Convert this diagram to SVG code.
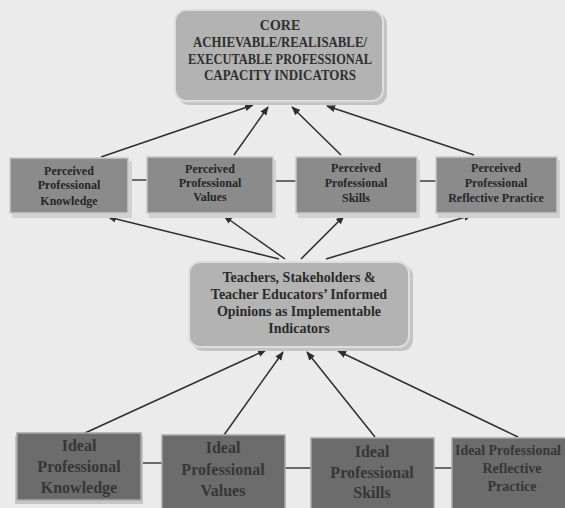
<svg xmlns="http://www.w3.org/2000/svg" width="565" height="508" viewBox="0 0 565 508">
<style>
  text { font-family: "Liberation Serif", "Times New Roman", serif; font-weight: bold; text-anchor: middle; }
  .core { fill: #b3b3b3; stroke: #dedede; stroke-width: 2; }
  .coreShadow { fill: #c4c4c4; }
  .perc { fill: #8b8b8b; stroke: #c9c9c9; stroke-width: 1.5; }
  .percShadow { fill: #d2d2d2; }
  .ideal { fill: #6c6c6c; stroke: #a8a8a8; stroke-width: 1.5; }
  .idealShadow { fill: #c6c6c6; }
  .t1 { font-size: 14px; fill: #2f2f2f; }
  .t2 { font-size: 12px; fill: #262626; }
  .t3 { font-size: 14px; fill: #2a2a2a; }
  .t4 { font-size: 16px; fill: #363636; }
  .t5 { font-size: 14px; fill: #363636; }
  .arrow { stroke: #2e2e2e; stroke-width: 1.5; fill: none; marker-end: url(#ah); }
  .link { stroke: #6a6a6a; stroke-width: 2; fill: none; }
</style>
<defs>
  <marker id="ah" viewBox="0 0 10 10" refX="9" refY="5" markerWidth="6" markerHeight="6" orient="auto" markerUnits="strokeWidth">
    <path d="M0,1 L10,5 L0,9 Z" fill="#2e2e2e"/>
  </marker>
</defs>
<rect x="0" y="0" width="565" height="508" fill="#ebebeb"/>

<g id="connectors">
  <line class="link" x1="128" y1="180" x2="147" y2="180"/>
  <line class="link" x1="273" y1="181" x2="296" y2="181"/>
  <line class="link" x1="417" y1="181" x2="436" y2="181"/>
  <line class="link" x1="141" y1="463" x2="162" y2="463"/>
  <line class="link" x1="285" y1="468" x2="311" y2="468"/>
  <line class="link" x1="434" y1="468" x2="452" y2="468"/>
  <line class="arrow" x1="101" y1="157" x2="253" y2="105"/>
  <line class="arrow" x1="234" y1="155" x2="268" y2="107"/>
  <line class="arrow" x1="341" y1="155" x2="292" y2="107"/>
  <line class="arrow" x1="474" y1="155" x2="327" y2="106"/>
  <line class="arrow" x1="279" y1="259" x2="108" y2="217"/>
  <line class="arrow" x1="285" y1="259" x2="224" y2="216"/>
  <line class="arrow" x1="301" y1="259" x2="344" y2="216"/>
  <line class="arrow" x1="326" y1="259" x2="472" y2="215"/>
  <line class="arrow" x1="85" y1="433" x2="266" y2="350"/>
  <line class="arrow" x1="224" y1="435" x2="283" y2="352"/>
  <line class="arrow" x1="375" y1="437" x2="307" y2="352"/>
  <line class="arrow" x1="518" y1="437" x2="338" y2="351"/>
</g>

<g id="core">
  <rect class="coreShadow" x="178" y="13" width="209" height="92" rx="11"/>
  <rect class="core" x="175" y="10" width="208" height="91" rx="11"/>
  <text class="t1" x="280" y="30">CORE</text>
  <text class="t1" x="280" y="47" textLength="174" lengthAdjust="spacingAndGlyphs">ACHIEVABLE/REALISABLE/</text>
  <text class="t1" x="280" y="64" textLength="184" lengthAdjust="spacingAndGlyphs">EXECUTABLE PROFESSIONAL</text>
  <text class="t1" x="280" y="80" textLength="152" lengthAdjust="spacingAndGlyphs">CAPACITY INDICATORS</text>
</g>

<g id="perceived-knowledge">
  <rect class="percShadow" x="12" y="161" width="120" height="57"/>
  <rect class="perc" x="10" y="158" width="118" height="55"/>
  <text class="t2" x="69" y="175">Perceived</text>
  <text class="t2" x="69" y="189">Professional</text>
  <text class="t2" x="69" y="205">Knowledge</text>
</g>
<g id="perceived-values">
  <rect class="percShadow" x="149" y="160" width="127" height="58"/>
  <rect class="perc" x="147" y="157" width="126" height="56"/>
  <text class="t2" x="210" y="173">Perceived</text>
  <text class="t2" x="210" y="187">Professional</text>
  <text class="t2" x="210" y="201">Values</text>
</g>
<g id="perceived-skills">
  <rect class="percShadow" x="298" y="160" width="122" height="58"/>
  <rect class="perc" x="296" y="157" width="121" height="56"/>
  <text class="t2" x="356" y="172">Perceived</text>
  <text class="t2" x="356" y="187">Professional</text>
  <text class="t2" x="356" y="202">Skills</text>
</g>
<g id="perceived-reflective">
  <rect class="percShadow" x="438" y="160" width="122" height="58"/>
  <rect class="perc" x="436" y="157" width="121" height="56"/>
  <text class="t2" x="496" y="172">Perceived</text>
  <text class="t2" x="496" y="187">Professional</text>
  <text class="t2" x="496" y="202">Reflective Practice</text>
</g>

<g id="opinions">
  <rect class="coreShadow" x="192" y="265" width="221" height="86" rx="11"/>
  <rect class="core" x="189" y="262" width="220" height="85" rx="11"/>
  <text class="t3" x="299" y="282">Teachers, Stakeholders &amp;</text>
  <text class="t3" x="299" y="299">Teacher Educators’ Informed</text>
  <text class="t3" x="299" y="316">Opinions as Implementable</text>
  <text class="t3" x="299" y="333">Indicators</text>
</g>

<g id="ideal-knowledge">
  <rect class="idealShadow" x="15" y="436" width="128" height="68"/>
  <rect class="ideal" x="17" y="433" width="124" height="67"/>
  <text class="t4" x="79" y="451">Ideal</text>
  <text class="t4" x="79" y="472">Professional</text>
  <text class="t4" x="79" y="493">Knowledge</text>
</g>
<g id="ideal-values">
  <rect class="ideal" x="162" y="435" width="123" height="75"/>
  <text class="t4" x="223" y="453">Ideal</text>
  <text class="t4" x="223" y="475">Professional</text>
  <text class="t4" x="223" y="496">Values</text>
</g>
<g id="ideal-skills">
  <rect class="ideal" x="311" y="438" width="123" height="72"/>
  <text class="t4" x="372" y="457">Ideal</text>
  <text class="t4" x="372" y="478">Professional</text>
  <text class="t4" x="372" y="498">Skills</text>
</g>
<g id="ideal-reflective">
  <rect class="ideal" x="452" y="438" width="125" height="72"/>
  <text class="t5" x="508" y="455" textLength="106" lengthAdjust="spacingAndGlyphs">Ideal Professional</text>
  <text class="t5" x="512" y="473">Reflective</text>
  <text class="t5" x="512" y="491">Practice</text>
</g>
</svg>
